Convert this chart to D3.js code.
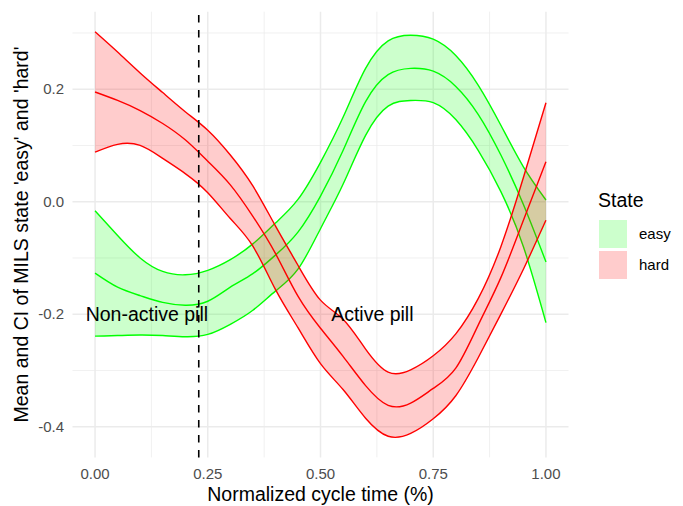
<!DOCTYPE html>
<meta charset="utf-8">
<style>
body { margin: 0; background: #fff; }
text { font-family: "Liberation Sans", Arial, sans-serif; }
.grid-major { stroke: #EBEBEB; stroke-width: 1.5; }
.grid-minor { stroke: #EBEBEB; stroke-width: 0.75; }
.tick-label { fill: #4D4D4D; font-size: 15px; }
</style>
<body>
<script src="https://cdn.jsdelivr.net/npm/d3@7"></script>
<script>

// normalized cycle time and the MILS state curves (mean + CI)
var cycleTime = [0.00, 0.05, 0.10, 0.15, 0.20, 0.25, 0.30, 0.35, 0.40, 0.45, 0.50,
                 0.55, 0.60, 0.65, 0.70, 0.75, 0.80, 0.85, 0.90, 0.95, 1.00];

var easyMean  = [-0.127, -0.152, -0.167, -0.179, -0.184, -0.177, -0.152, -0.128, -0.095, -0.054, 0.010,
                  0.091,  0.178,  0.226,  0.237,  0.232,  0.205,  0.155,  0.083, -0.005, -0.107];
var easyLower = [-0.239, -0.238, -0.237, -0.238, -0.240, -0.236, -0.218, -0.193, -0.159, -0.120, -0.048,
                  0.031,  0.118,  0.170,  0.180,  0.176,  0.146,  0.091,  0.018, -0.080, -0.215];
var easyUpper = [-0.016, -0.060, -0.100, -0.124, -0.130, -0.122, -0.103, -0.075, -0.038,  0.004,  0.070,
                  0.150,  0.237,  0.286,  0.296,  0.289,  0.260,  0.207,  0.136,  0.062,  0.003];

var hardMean  = [ 0.195,  0.180,  0.162,  0.139,  0.110,  0.072,  0.030, -0.026, -0.092, -0.168, -0.225,
                 -0.275, -0.327, -0.362, -0.358, -0.332, -0.296, -0.219, -0.135, -0.033,  0.071];
var hardLower = [ 0.088,  0.102,  0.100,  0.077,  0.050,  0.016, -0.030, -0.079, -0.156, -0.224, -0.288,
                 -0.334, -0.385, -0.417, -0.412, -0.386, -0.345, -0.277, -0.200, -0.120, -0.033];
var hardUpper = [ 0.302,  0.266,  0.229,  0.194,  0.160,  0.127,  0.083,  0.028, -0.043, -0.113, -0.175,
                 -0.209, -0.262, -0.303, -0.299, -0.274, -0.235, -0.172, -0.080,  0.043,  0.176];

var states = ["easy", "hard"];
var stateColors = ["#00FF00", "#FF0000"];

var xTicks = [0, 0.25, 0.5, 0.75, 1];
var xTickLabels = ["0.00", "0.25", "0.50", "0.75", "1.00"];
var yTicks = [-0.4, -0.2, 0, 0.2];
var yTickLabels = ["-0.4", "-0.2", "0.0", "0.2"];

var pillSwitch = 0.23;
var notes = [{label: "Non-active pill", t: 0.115, v: -0.2}, {label: "Active pill", t: 0.615, v: -0.2}];

// build rows for each state
function rows(mean, lo, hi) {
    return cycleTime.map(function(t, i) { return {t: t, mean: mean[i], lo: lo[i], hi: hi[i]}; });
}
var series = [rows(easyMean, easyLower, easyUpper), rows(hardMean, hardLower, hardUpper)];

var W = 683, H = 506;
var panel = {left: 72.5, right: 568.5, top: 11.7, bottom: 457.4};

var svg = d3.select("body").append("svg")
    .attr("width", W)
    .attr("height", H);

var xScale = d3.scaleLinear().domain([-0.05, 1.05]).range([panel.left, panel.right]);
var yScale = d3.scaleLinear().domain([-0.4546, 0.3378]).range([panel.bottom, panel.top]);

// grid
var xMinor = [0.125, 0.375, 0.625, 0.875];
var yMinor = [-0.3, -0.1, 0.1, 0.3];
svg.append("g").selectAll("line").data(xMinor).enter().append("line")
    .attr("class", "grid-minor")
    .attr("x1", d => xScale(d)).attr("x2", d => xScale(d))
    .attr("y1", panel.top).attr("y2", panel.bottom);
svg.append("g").selectAll("line").data(yMinor).enter().append("line")
    .attr("class", "grid-minor")
    .attr("y1", d => yScale(d)).attr("y2", d => yScale(d))
    .attr("x1", panel.left).attr("x2", panel.right);
svg.append("g").selectAll("line").data(xTicks).enter().append("line")
    .attr("class", "grid-major")
    .attr("x1", d => xScale(d)).attr("x2", d => xScale(d))
    .attr("y1", panel.top).attr("y2", panel.bottom);
svg.append("g").selectAll("line").data(yTicks).enter().append("line")
    .attr("class", "grid-major")
    .attr("y1", d => yScale(d)).attr("y2", d => yScale(d))
    .attr("x1", panel.left).attr("x2", panel.right);

// ribbons and lines
var curve = d3.curveNatural;
var area = d3.area().x(d => xScale(d.t)).y0(d => yScale(d.lo)).y1(d => yScale(d.hi)).curve(curve);
function lineOf(key) {
    return d3.line().x(d => xScale(d.t)).y(d => yScale(d[key])).curve(curve);
}

for (var i = 0; i < series.length; i++) {
    var g = svg.append("g");
    g.append("path").datum(series[i])
        .attr("d", area)
        .attr("fill", stateColors[i])
        .attr("fill-opacity", 0.2);
    ["lo", "hi", "mean"].forEach(function(k) {
        g.append("path").datum(series[i])
            .attr("d", lineOf(k))
            .attr("fill", "none")
            .attr("stroke", stateColors[i])
            .attr("stroke-width", 1.4);
    });
}

// pill switch marker
svg.append("line")
    .attr("x1", xScale(pillSwitch)).attr("x2", xScale(pillSwitch))
    .attr("y1", panel.top).attr("y2", panel.bottom)
    .attr("stroke", "#000")
    .attr("stroke-width", 1.6)
    .attr("stroke-dasharray", "7.5,7.5")
    .attr("stroke-dashoffset", 11.7);

svg.selectAll(".note").data(notes).enter().append("text")
    .attr("x", d => xScale(d.t))
    .attr("y", d => yScale(d.v))
    .attr("dy", "0.35em")
    .attr("text-anchor", "middle")
    .style("font-size", "19.5px")
    .style("fill", "#000")
    .text(d => d.label);

// tick labels
svg.selectAll(".xt").data(xTicks).enter().append("text")
    .attr("class", "tick-label")
    .attr("x", d => xScale(d))
    .attr("y", 479)
    .attr("text-anchor", "middle")
    .text((d, i) => xTickLabels[i]);
svg.selectAll(".yt").data(yTicks).enter().append("text")
    .attr("class", "tick-label")
    .attr("x", 64)
    .attr("y", d => yScale(d))
    .attr("dy", "0.35em")
    .attr("text-anchor", "end")
    .text((d, i) => yTickLabels[i]);

// axis titles
svg.append("text")
    .attr("x", (panel.left + panel.right) / 2)
    .attr("y", 501)
    .attr("text-anchor", "middle")
    .style("font-size", "19.5px")
    .text("Normalized cycle time (%)");
svg.append("text")
    .attr("transform", "translate(28," + ((panel.top + panel.bottom) / 2) + ") rotate(-90)")
    .attr("text-anchor", "middle")
    .style("font-size", "19.5px")
    .text("Mean and CI of MILS state 'easy' and 'hard'");

// legend
svg.append("text")
    .attr("x", 598)
    .attr("y", 207)
    .style("font-size", "19.5px")
    .text("State");
var leg = svg.selectAll(".leg").data(states).enter().append("g")
    .attr("transform", (d, i) => "translate(599," + (220 + i * 31) + ")");
leg.append("rect")
    .attr("width", 28).attr("height", 28)
    .attr("fill", (d, i) => stateColors[i])
    .attr("fill-opacity", 0.2);
leg.append("text")
    .attr("x", 40)
    .attr("y", 14)
    .attr("dy", "0.35em")
    .style("font-size", "15px")
    .text(d => d);

</script>
</body>
